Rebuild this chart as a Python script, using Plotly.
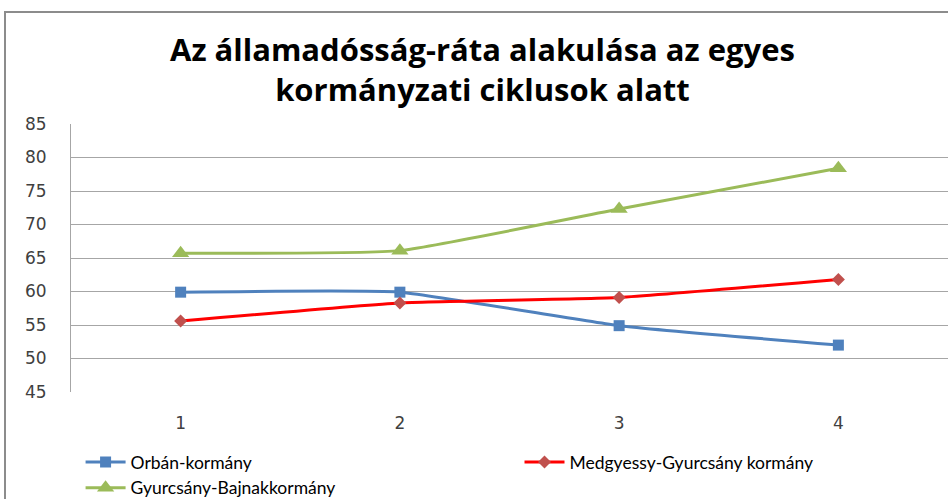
import plotly.graph_objects as go

ciklusok = [1, 2, 3, 4]
orban = [59.9, 59.9, 54.9, 52.0]
medgyessy = [55.6, 58.3, 59.1, 61.8]
bajnai = [65.7, 66.1, 72.3, 78.4]
y_ticks = [45, 50, 55, 60, 65, 70, 75, 80, 85]

def OrbanChart(ciklusok):
    return go.Scatter(x=ciklusok,
        y=orban,
        name = 'Orbán-kormány', # Style name/legend entry
        mode='lines+markers',
        line=dict(color='#4F81BD', width=3, shape='spline', smoothing=0.4),
        marker=dict(symbol='square', size=11, color='#4F81BD'),
        legend='legend',
        connectgaps=True # override default to connect the gaps
    )

def MedgyessyChart(ciklusok):
    return go.Scatter(x=ciklusok,
        y=medgyessy,
        name='Medgyessy-Gyurcsány kormány',
        mode='lines+markers',
        line=dict(color='#FF0000', width=3, shape='spline', smoothing=0.4),
        marker=dict(symbol='diamond', size=10, color='#C0504D'),
        legend='legend2',
    connectgaps=True)

def BajnaiChart(ciklusok):
    return go.Scatter(x=ciklusok,
        y=bajnai,
        name='Gyurcsány-Bajnakkormány',
        mode='lines+markers',
        line=dict(color='#9BBB59', width=3, shape='spline', smoothing=0.4),
        marker=dict(symbol='triangle-up', size=15, color='#9BBB59'),
        legend='legend',
    connectgaps=True)

legend_font = dict(family='Lato', size=17.5, color='black')

fig = go.Figure([OrbanChart(ciklusok), MedgyessyChart(ciklusok), BajnaiChart(ciklusok)])
fig.update_layout(
    width=948, height=499,
    margin=dict(l=71, r=0, t=124, b=107, autoexpand=False),
    paper_bgcolor='white', plot_bgcolor='white',
    font=dict(family='DejaVu Sans', size=17, color='#404040'),
    showlegend=True,
    legend=dict(orientation='v', xref='container', yref='container', x=0.085, y=1 - 444/499,
        xanchor='left', yanchor='top', itemwidth=40, tracegroupgap=0, traceorder='normal',
        bgcolor='rgba(0,0,0,0)', font=legend_font),
    legend2=dict(orientation='v', xref='container', yref='container', x=0.548, y=1 - 444/499,
        xanchor='left', yanchor='top', itemwidth=40,
        bgcolor='rgba(0,0,0,0)', font=legend_font),
    xaxis=dict(range=[0.5, 4.5], tickvals=ciklusok, showgrid=False, zeroline=False,
        showline=False, ticks='', automargin=False, ticklabelstandoff=19),
    yaxis=dict(range=[45, 85], tickvals=y_ticks, showgrid=True, gridcolor='#A6A6A6',
        gridwidth=1, zeroline=False, showline=True, linecolor='#A6A6A6', ticks='',
        automargin=False, ticklabelstandoff=20),
)
fig.add_annotation(text='<b>Az államadósság-ráta alakulása az egyes<br>kormányzati ciklusok alatt</b>',
    xref='paper', yref='paper', x=(482 - 71) / 877, y=1 + (124 - 69) / 268,
    xanchor='center', yanchor='middle', showarrow=False,
    font=dict(family='Open Sans', size=31, color='black'))
fig.add_shape(type='rect', xref='paper', yref='paper', x0=(5 - 71) / 877, x1=1.1,
    y0=-0.5, y1=1 + (124 - 12) / 268, line=dict(color='#8C8C8C', width=2))
fig.write_html("out.html", config={'displayModeBar': False},
    post_script="document.body.style.margin='0';")
